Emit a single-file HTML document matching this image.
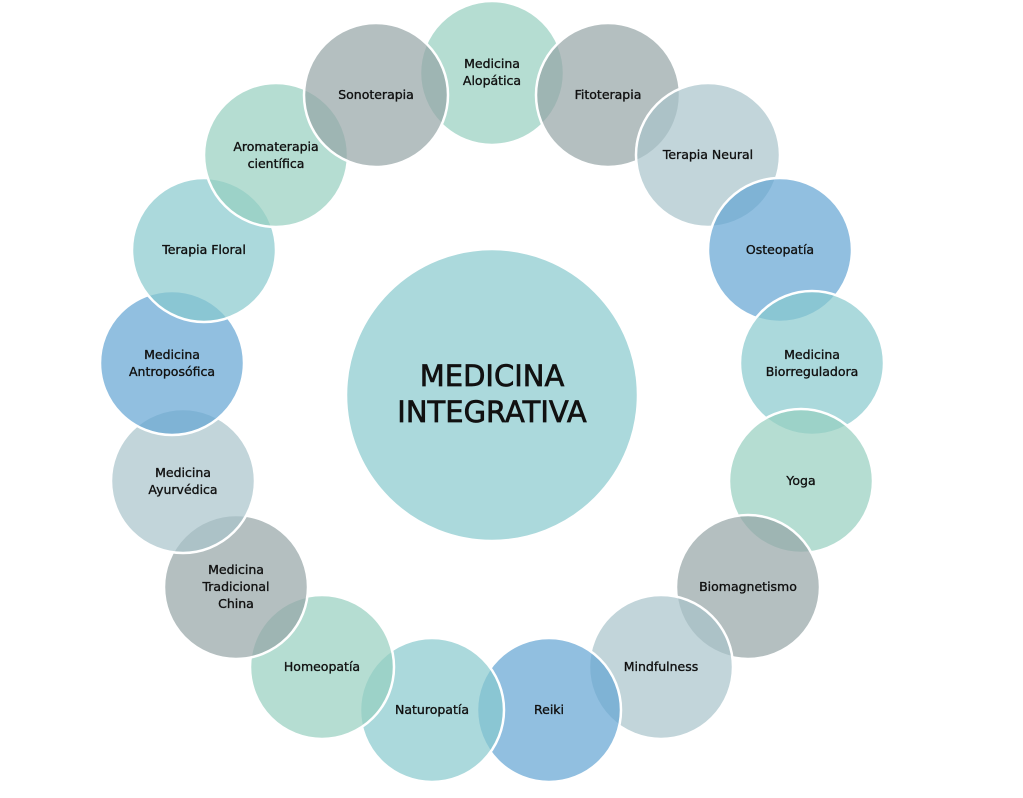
<!DOCTYPE html>
<html><head><meta charset="utf-8"><style>
html,body{margin:0;padding:0;background:#fff;}
svg{display:block}
text{font-family:"DejaVu Sans","Liberation Sans",sans-serif;font-size:12.5px;fill:#111;stroke:#111;stroke-width:0.35;text-anchor:middle;}
.c{stroke:#fff;stroke-width:2.5;}
</style></head><body>
<svg width="1023" height="798" viewBox="0 0 1023 798">
<circle cx="492" cy="395" r="146" fill="#abd9dc" class="c"/>
<text x="492" y="386" style="font-size:29px;stroke-width:0.7">MEDICINA</text>
<text x="492" y="422" style="font-size:29px;stroke-width:0.7">INTEGRATIVA</text>
<g fill-opacity="0.7">
<circle cx="492" cy="73" r="72" fill="#95cebf" class="c"/>
<circle cx="608" cy="95" r="72" fill="#94a4a5" class="c"/>
<circle cx="708" cy="155" r="72" fill="#a8c3ca" class="c"/>
<circle cx="780" cy="250" r="72" fill="#62a4d3" class="c"/>
<circle cx="812" cy="363" r="72" fill="#87c9cd" class="c"/>
<circle cx="801" cy="481" r="72" fill="#95cebf" class="c"/>
<circle cx="748" cy="587" r="72" fill="#94a4a5" class="c"/>
<circle cx="661" cy="667" r="72" fill="#a8c3ca" class="c"/>
<circle cx="549" cy="710" r="72" fill="#62a4d3" class="c"/>
<circle cx="432" cy="710" r="72" fill="#87c9cd" class="c"/>
<circle cx="322" cy="667" r="72" fill="#95cebf" class="c"/>
<circle cx="236" cy="587" r="72" fill="#94a4a5" class="c"/>
<circle cx="183" cy="481" r="72" fill="#a8c3ca" class="c"/>
<circle cx="172" cy="363" r="72" fill="#62a4d3" class="c"/>
<circle cx="204" cy="250" r="72" fill="#87c9cd" class="c"/>
<circle cx="276" cy="155" r="72" fill="#95cebf" class="c"/>
<circle cx="376" cy="95" r="72" fill="#94a4a5" class="c"/>
</g>
<text x="492" y="68">Medicina</text><text x="492" y="85">Alopática</text>
<text x="608" y="99">Fitoterapia</text>
<text x="708" y="159">Terapia Neural</text>
<text x="780" y="254">Osteopatía</text>
<text x="812" y="359">Medicina</text><text x="812" y="376">Biorreguladora</text>
<text x="801" y="485">Yoga</text>
<text x="748" y="591">Biomagnetismo</text>
<text x="661" y="671">Mindfulness</text>
<text x="549" y="714">Reiki</text>
<text x="432" y="714">Naturopatía</text>
<text x="322" y="671">Homeopatía</text>
<text x="236" y="574">Medicina</text><text x="236" y="591">Tradicional</text><text x="236" y="608">China</text>
<text x="183" y="477">Medicina</text><text x="183" y="494">Ayurvédica</text>
<text x="172" y="359">Medicina</text><text x="172" y="376">Antroposófica</text>
<text x="204" y="254">Terapia Floral</text>
<text x="276" y="151">Aromaterapia</text><text x="276" y="168">científica</text>
<text x="376" y="99">Sonoterapia</text>
</svg>
</body></html>
